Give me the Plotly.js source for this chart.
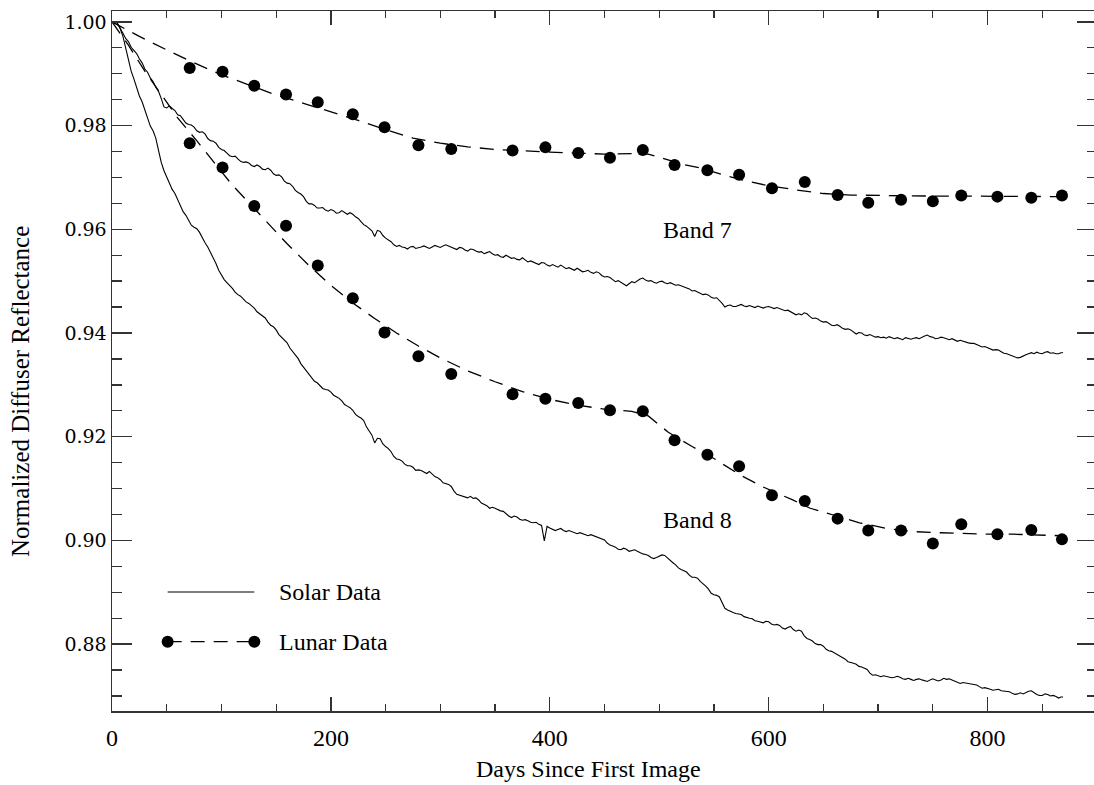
<!DOCTYPE html>
<html>
<head>
<meta charset="utf-8">
<script src="https://cdn.plot.ly/plotly-3.0.1.min.js"></script>
<style>
  html, body { margin: 0; padding: 0; background: #fff; overflow: hidden; }
  #chart { width: 1110px; height: 785px; }
</style>
</head>
<body>
<div id="chart"></div>
<script>
// Solar-diffuser measurements, days since first image
const solarDays = [
  4,7,10,12.5,15,17.5,20,22.5,25,27.5,
  30,32.5,35,37.5,40,42.5,45,47.5,50,52.5,
  55,57.5,60,62.5,65,67.5,70,72.5,75,77.5,
  80,82.5,85,87.5,90,92.5,95,97.5,100,102.5,
  105,107.5,110,112.5,115,117.5,120,122.5,125,127.5,
  130,132.5,135,137.5,140,142.5,145,147.5,150,152.5,
  155,157.5,160,162.5,165,167.5,170,172.5,175,177.5,
  180,182.5,185,187.5,190,192.5,195,197.5,200,202.5,
  205,207.5,210,212.5,215,217.5,220,222.5,225,227.5,
  230,232.5,235,237.5,240,242.5,245,247.5,250,252.5,
  255,257.5,260,262.5,265,267.5,270,272.5,275,277.5,
  280,282.5,285,287.5,290,292.5,295,297.5,300,302.5,
  305,307.5,310,312.5,315,317.5,320,322.5,325,327.5,
  330,332.5,335,337.5,340,342.5,345,347.5,350,352.5,
  355,357.5,360,362.5,365,367.5,370,372.5,375,377.5,
  380,382.5,385,387.5,390,392.5,395,397.5,400,402.5,
  405,407.5,410,412.5,415,417.5,420,422.5,425,427.5,
  430,432.5,435,437.5,440,442.5,445,447.5,450,452.5,
  455,457.5,460,462.5,465,467.5,470,472.5,475,477.5,
  480,482.5,485,487.5,490,492.5,495,497.5,500,502.5,
  505,507.5,510,512.5,515,517.5,520,522.5,525,527.5,
  530,532.5,535,537.5,540,542.5,545,547.5,550,552.5,
  555,557.5,560,562.5,565,567.5,570,572.5,575,577.5,
  580,582.5,585,587.5,590,592.5,595,597.5,600,602.5,
  605,607.5,610,612.5,615,617.5,620,622.5,625,627.5,
  630,632.5,635,637.5,640,642.5,645,647.5,650,652.5,
  655,657.5,660,662.5,665,667.5,670,672.5,675,677.5,
  680,682.5,685,687.5,690,692.5,695,697.5,700,702.5,
  705,707.5,710,712.5,715,717.5,720,722.5,725,727.5,
  730,732.5,735,737.5,740,742.5,745,747.5,750,752.5,
  755,757.5,760,762.5,765,767.5,770,772.5,775,777.5,
  780,782.5,785,787.5,790,792.5,795,797.5,800,802.5,
  805,807.5,810,812.5,815,817.5,820,822.5,825,827.5,
  830,832.5,835,837.5,840,842.5,845,847.5,850,852.5,
  855,857.5,860,862.5,865,867,869];

const solarBand7 = [
  1.0000,0.9990,0.9978,0.9968,0.9962,0.9951,0.9945,0.9939,0.9929,0.9921,
  0.9909,0.9903,0.9892,0.9885,0.9874,0.9866,0.9852,0.9836,0.9834,0.9838,
  0.9833,0.9829,0.9821,0.9819,0.9812,0.9805,0.9802,0.9801,0.9797,0.9790,
  0.9787,0.9788,0.9784,0.9775,0.9771,0.9770,0.9766,0.9758,0.9754,0.9752,
  0.9747,0.9742,0.9740,0.9741,0.9736,0.9731,0.9729,0.9730,0.9728,0.9723,
  0.9721,0.9724,0.9721,0.9716,0.9715,0.9718,0.9714,0.9707,0.9704,0.9705,
  0.9701,0.9693,0.9689,0.9688,0.9683,0.9675,0.9671,0.9668,0.9663,0.9654,
  0.9649,0.9649,0.9646,0.9641,0.9641,0.9642,0.9637,0.9635,0.9638,0.9636,
  0.9631,0.9632,0.9636,0.9633,0.9629,0.9632,0.9629,0.9624,0.9621,0.9615,
  0.9609,0.9606,0.9601,0.9597,0.9586,0.9598,0.9596,0.9588,0.9583,0.9580,
  0.9576,0.9570,0.9567,0.9569,0.9566,0.9565,0.9562,0.9566,0.9567,0.9563,
  0.9564,0.9566,0.9568,0.9565,0.9563,0.9566,0.9569,0.9567,0.9565,0.9568,
  0.9570,0.9568,0.9566,0.9564,0.9561,0.9565,0.9564,0.9560,0.9558,0.9562,
  0.9561,0.9558,0.9556,0.9557,0.9553,0.9555,0.9557,0.9553,0.9550,0.9551,
  0.9547,0.9546,0.9550,0.9547,0.9544,0.9545,0.9542,0.9541,0.9545,0.9541,
  0.9537,0.9539,0.9537,0.9534,0.9532,0.9536,0.9535,0.9531,0.9529,0.9532,
  0.9529,0.9527,0.9531,0.9528,0.9524,0.9526,0.9523,0.9521,0.9525,0.9522,
  0.9518,0.9519,0.9521,0.9517,0.9515,0.9518,0.9516,0.9511,0.9508,0.9509,
  0.9507,0.9503,0.9499,0.9501,0.9498,0.9494,0.9491,0.9495,0.9499,0.9497,
  0.9501,0.9504,0.9506,0.9502,0.9500,0.9501,0.9498,0.9496,0.9499,0.9500,
  0.9497,0.9495,0.9497,0.9494,0.9492,0.9493,0.9491,0.9488,0.9487,0.9485,
  0.9481,0.9482,0.9479,0.9476,0.9474,0.9475,0.9473,0.9469,0.9467,0.9468,
  0.9463,0.9457,0.9450,0.9453,0.9454,0.9451,0.9451,0.9453,0.9455,0.9452,
  0.9451,0.9453,0.9451,0.9449,0.9452,0.9450,0.9448,0.9450,0.9451,0.9449,
  0.9447,0.9449,0.9447,0.9444,0.9443,0.9444,0.9441,0.9438,0.9435,0.9437,
  0.9435,0.9439,0.9437,0.9432,0.9428,0.9429,0.9427,0.9423,0.9421,0.9422,
  0.9419,0.9415,0.9414,0.9416,0.9413,0.9409,0.9407,0.9408,0.9406,0.9401,
  0.9398,0.9401,0.9400,0.9396,0.9395,0.9397,0.9394,0.9392,0.9393,0.9391,
  0.9392,0.9390,0.9393,0.9391,0.9389,0.9391,0.9389,0.9387,0.9391,0.9389,
  0.9388,0.9390,0.9391,0.9389,0.9392,0.9394,0.9396,0.9393,0.9392,0.9389,
  0.9390,0.9392,0.9391,0.9389,0.9387,0.9389,0.9387,0.9384,0.9386,0.9384,
  0.9383,0.9381,0.9380,0.9380,0.9378,0.9375,0.9373,0.9374,0.9372,0.9369,
  0.9367,0.9368,0.9367,0.9364,0.9361,0.9360,0.9358,0.9356,0.9355,0.9352,
  0.9353,0.9356,0.9358,0.9360,0.9362,0.9360,0.9363,0.9361,0.9360,0.9363,
  0.9364,0.9361,0.9362,0.9360,0.9360,0.9362,0.9362];

const solarBand8 = [
  1.0000,0.9990,0.9972,0.9950,0.9922,0.9905,0.9890,0.9871,0.9857,0.9846,
  0.9831,0.9813,0.9799,0.9790,0.9776,0.9752,0.9729,0.9713,0.9701,0.9690,
  0.9677,0.9669,0.9658,0.9644,0.9634,0.9627,0.9616,0.9608,0.9604,0.9601,
  0.9594,0.9583,0.9574,0.9566,0.9556,0.9546,0.9534,0.9521,0.9511,0.9503,
  0.9497,0.9492,0.9486,0.9479,0.9474,0.9471,0.9466,0.9460,0.9457,0.9453,
  0.9448,0.9441,0.9437,0.9434,0.9429,0.9421,0.9415,0.9412,0.9406,0.9397,
  0.9391,0.9387,0.9381,0.9371,0.9364,0.9358,0.9351,0.9341,0.9334,0.9328,
  0.9321,0.9312,0.9307,0.9304,0.9299,0.9293,0.9291,0.9290,0.9286,0.9280,
  0.9277,0.9274,0.9269,0.9262,0.9259,0.9256,0.9251,0.9243,0.9239,0.9236,
  0.9231,0.9219,0.9211,0.9203,0.9188,0.9197,0.9196,0.9186,0.9181,0.9177,
  0.9171,0.9162,0.9157,0.9156,0.9153,0.9147,0.9144,0.9144,0.9141,0.9135,
  0.9136,0.9135,0.9132,0.9129,0.9133,0.9127,0.9123,0.9121,0.9117,0.9111,
  0.9109,0.9108,0.9104,0.9095,0.9089,0.9087,0.9085,0.9083,0.9082,0.9085,
  0.9081,0.9082,0.9078,0.9072,0.9069,0.9067,0.9062,0.9064,0.9062,0.9059,
  0.9057,0.9056,0.9051,0.9047,0.9044,0.9047,0.9045,0.9041,0.9039,0.9040,
  0.9038,0.9035,0.9034,0.9035,0.9031,0.9029,0.8999,0.9027,0.9024,0.9021,
  0.9019,0.9021,0.9023,0.9019,0.9017,0.9019,0.9017,0.9014,0.9013,0.9015,
  0.9013,0.9010,0.9009,0.9011,0.9009,0.9007,0.9006,0.9004,0.9001,0.8995,
  0.8991,0.8989,0.8987,0.8983,0.8982,0.8985,0.8983,0.8979,0.8980,0.8982,
  0.8979,0.8976,0.8974,0.8973,0.8971,0.8967,0.8965,0.8967,0.8969,0.8972,
  0.8971,0.8966,0.8961,0.8957,0.8953,0.8947,0.8944,0.8942,0.8939,0.8933,
  0.8929,0.8929,0.8927,0.8921,0.8917,0.8912,0.8906,0.8898,0.8895,0.8894,
  0.8891,0.8879,0.8869,0.8866,0.8863,0.8861,0.8859,0.8858,0.8857,0.8853,
  0.8851,0.8850,0.8849,0.8845,0.8844,0.8843,0.8841,0.8844,0.8843,0.8839,
  0.8837,0.8838,0.8836,0.8831,0.8829,0.8832,0.8834,0.8828,0.8825,0.8827,
  0.8825,0.8816,0.8811,0.8809,0.8806,0.8801,0.8799,0.8799,0.8796,0.8790,
  0.8787,0.8786,0.8783,0.8779,0.8777,0.8774,0.8771,0.8766,0.8765,0.8763,
  0.8761,0.8757,0.8756,0.8754,0.8751,0.8744,0.8740,0.8741,0.8739,0.8737,
  0.8739,0.8738,0.8737,0.8735,0.8736,0.8738,0.8736,0.8733,0.8732,0.8734,
  0.8732,0.8730,0.8732,0.8733,0.8731,0.8729,0.8728,0.8731,0.8733,0.8731,
  0.8729,0.8731,0.8734,0.8732,0.8733,0.8731,0.8729,0.8726,0.8724,0.8726,
  0.8725,0.8723,0.8722,0.8722,0.8721,0.8718,0.8715,0.8716,0.8715,0.8713,
  0.8711,0.8712,0.8713,0.8710,0.8709,0.8709,0.8708,0.8705,0.8703,0.8704,
  0.8706,0.8704,0.8707,0.8709,0.8710,0.8706,0.8703,0.8701,0.8701,0.8704,
  0.8703,0.8700,0.8701,0.8699,0.8696,0.8698,0.8698];

// Lunar observations
const lunarDays = [71,101,130,159,188,220,249,280,310,366,396,426,455,485,514,544,573,603,633,663,691,721,750,776,809,840,868];
const lunarBand7 = [0.9911,0.9904,0.9877,0.9860,0.9845,0.9822,0.9797,0.9762,0.9755,0.9752,0.9758,0.9747,0.9738,0.9753,
  0.9724,0.9714,0.9705,0.9679,0.9691,0.9666,0.9651,0.9657,0.9654,0.9665,0.9663,0.9661,0.9665];
const lunarBand8 = [0.9766,0.9719,0.9645,0.9607,0.9530,0.9467,0.9401,0.9355,0.9321,0.9282,0.9273,0.9265,0.9251,0.9249,
  0.9193,0.9165,0.9143,0.9087,0.9076,0.9042,0.9019,0.9019,0.8994,0.9031,0.9012,0.9020,0.9002];

// Smooth trend through the lunar observations
const trendDays7 = [0,25,50,75,100,125,150,175,200,225,250,275,300,325,350,375,400,425,450,475,490,505,520,540,560,580,600,625,650,675,700,725,750,775,800,825,850,868];
const trendBand7 = [1.0000,0.9972,0.9946,0.9921,0.9898,0.9879,0.9859,0.9843,0.9827,0.9810,0.9792,0.9776,0.9766,0.9759,0.9754,0.9751,0.9749,0.9747,0.9745,0.9746,0.9745,0.9736,0.9726,0.9717,0.9704,0.9693,0.9684,0.9676,0.9669,0.9666,0.9665,0.9664,0.9664,0.9664,0.9664,0.9663,0.9663,0.9663];
const trendDays8 = [0,15,30,47,60,77,92,110,123,140,160,180,200,220,240,260,280,300,325,350,375,400,425,450,475,490,508,530,550,574,595,622,638,659,683,708,732,753,778,800,823,845,868];
const trendBand8 = [1.0000,0.9955,0.9905,0.9855,0.9815,0.9772,0.9733,0.9685,0.9656,0.9617,0.9572,0.9530,0.9492,0.9458,0.9428,0.9400,0.9375,0.9352,0.9327,0.9306,0.9287,0.9272,0.9261,0.9253,0.9249,0.9240,0.9209,0.9181,0.9158,0.9126,0.9103,0.9078,0.9062,0.9049,0.9034,0.9023,0.9017,0.9015,0.9013,0.9012,0.9012,0.9010,0.9009];

const bandLabels = ['Band 7', 'Band 8'];
const legendLabels = ['Solar Data', 'Lunar Data'];
const xTitle = 'Days Since First Image';
const yTitle = 'Normalized Diffuser Reflectance';

const ink = '#000';
const axisInk = '#333';
const serif = 'Liberation Serif, Times New Roman, serif';

const solarLine = { color: ink, width: 1.1 };
const trendLine = { color: ink, width: 1.3, dash: '14px,9px' };
const lunarMarker = { color: ink, size: 12, symbol: 'circle' };

const traces = [
  { x: trendDays7, y: trendBand7, mode: 'lines', line: trendLine, hoverinfo: 'skip' },
  { x: trendDays8, y: trendBand8, mode: 'lines', line: trendLine, hoverinfo: 'skip' },
  { x: solarDays, y: solarBand7, mode: 'lines', line: solarLine, name: legendLabels[0] },
  { x: solarDays, y: solarBand8, mode: 'lines', line: solarLine, name: legendLabels[0] },
  { x: lunarDays, y: lunarBand7, mode: 'markers', marker: lunarMarker, name: legendLabels[1] },
  { x: lunarDays, y: lunarBand8, mode: 'markers', marker: lunarMarker, name: legendLabels[1] }
];

// Key drawn in paper coordinates in the lower-left corner
const keySolarY = 0.170, keyLunarY = 0.099;
const keyX0 = 0.0565, keyX1 = 0.1445, keyTextX = 0.1675;
const shapes = [
  { type: 'line', xref: 'paper', yref: 'paper', x0: keyX0, x1: keyX1, y0: keySolarY, y1: keySolarY, line: { color: ink, width: 1.1 } },
  { type: 'line', xref: 'paper', yref: 'paper', x0: keyX0, x1: keyX1, y0: keyLunarY, y1: keyLunarY, line: trendLine }
];
const keyMarkerR = 6;
[keyX0, keyX1].forEach(function (px) {
  shapes.push({ type: 'circle', xref: 'paper', yref: 'paper', xsizemode: 'pixel', ysizemode: 'pixel',
    xanchor: px, yanchor: keyLunarY, x0: -keyMarkerR, x1: keyMarkerR, y0: -keyMarkerR, y1: keyMarkerR,
    fillcolor: ink, line: { color: ink, width: 0 } });
});

const textFont = { family: serif, size: 24, color: ink };
const annotations = [
  { x: 502, y: 0.9598, xref: 'x', yref: 'y', text: bandLabels[0], showarrow: false, xanchor: 'left', yanchor: 'middle', font: textFont },
  { x: 502, y: 0.9039, xref: 'x', yref: 'y', text: bandLabels[1], showarrow: false, xanchor: 'left', yanchor: 'middle', font: textFont },
  { x: keyTextX, y: keySolarY, xref: 'paper', yref: 'paper', text: legendLabels[0], showarrow: false, xanchor: 'left', yanchor: 'middle', font: textFont },
  { x: keyTextX, y: keyLunarY, xref: 'paper', yref: 'paper', text: legendLabels[1], showarrow: false, xanchor: 'left', yanchor: 'middle', font: textFont },
  // axis titles
  { x: 0.4838, y: -0.083, xref: 'paper', yref: 'paper', text: xTitle, showarrow: false, xanchor: 'center', yanchor: 'middle', font: textFont },
  { x: -0.0934, y: 0.4557, xref: 'paper', yref: 'paper', text: yTitle, showarrow: false, textangle: -90, xanchor: 'center', yanchor: 'middle',
    font: { family: serif, size: 25, color: ink } }
];

const layout = {
  width: 1110, height: 785,
  margin: { l: 112, r: 13, t: 11, b: 74 },
  paper_bgcolor: '#fff', plot_bgcolor: '#fff',
  showlegend: false,
  font: textFont,
  xaxis: {
    range: [0, 900], dtick: 200, tick0: 0,
    ticks: 'inside', ticklen: 14, tickwidth: 1.3, tickcolor: axisInk,
    minor: { dtick: 50, ticks: 'inside', ticklen: 7, tickwidth: 1.3, tickcolor: axisInk },
    showline: true, linecolor: axisInk, linewidth: 1.5, mirror: 'allticks',
    showgrid: false, zeroline: false,
    tickfont: textFont, ticklabelstandoff: 5
  },
  yaxis: {
    range: [0.8671, 1.0021], dtick: 0.02, tick0: 0.88, tickformat: '.2f',
    ticks: 'inside', ticklen: 20, tickwidth: 1.3, tickcolor: axisInk,
    minor: { dtick: 0.005, ticks: 'inside', ticklen: 10, tickwidth: 1.3, tickcolor: axisInk },
    showline: true, linecolor: axisInk, linewidth: 1.5, mirror: 'allticks',
    showgrid: false, zeroline: false,
    tickfont: { family: 'DejaVu Serif, serif', size: 19, color: ink }
  },
  shapes: shapes,
  annotations: annotations
};

Plotly.newPlot('chart', traces, layout, { staticPlot: true, displayModeBar: false });
</script>
</body>
</html>
